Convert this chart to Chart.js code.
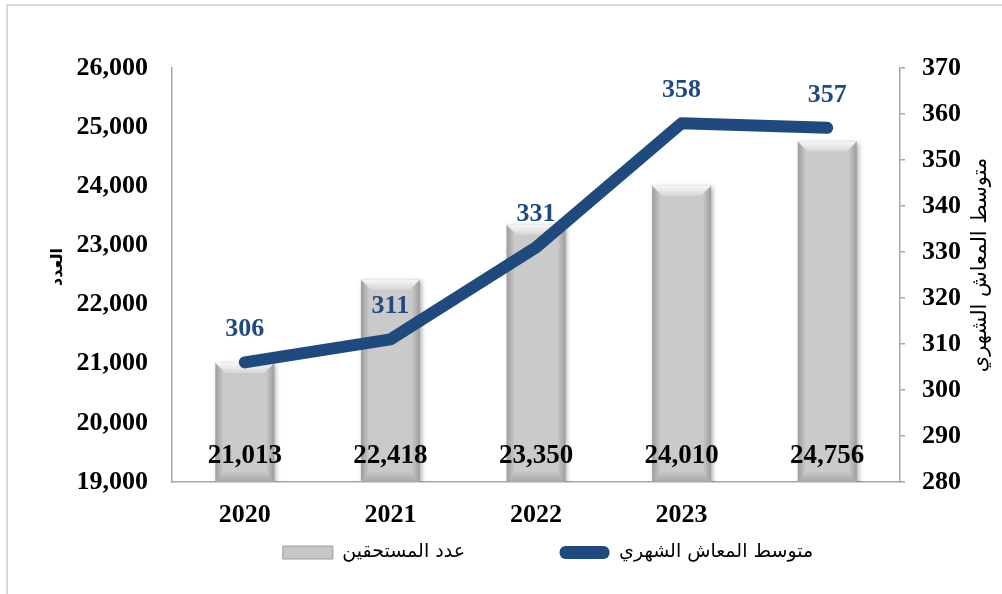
<!DOCTYPE html>
<html>
<head>
<meta charset="utf-8">
<script src="https://cdn.jsdelivr.net/npm/chart.js@4"></script>
<style>
  html, body { margin: 0; padding: 0; background: #fff; }
  #wrap { width: 1002px; height: 594px; }
</style>
</head>
<body>
<div id="wrap"><canvas id="chart" width="1002" height="594"></canvas></div>
<script>
// datos
const years = ['2020', '2021', '2022', '2023', ''];
const beneficiaries = [21013, 22418, 23350, 24010, 24756];
const avgPension = [306, 311, 331, 358, 357];

const leftMin = 19000, leftMax = 26000, leftStep = 1000;
const rightMin = 280, rightMax = 370, rightStep = 10;

const barLegend = 'عدد المستحقين';
const lineLegend = 'متوسط المعاش الشهري';
const leftTitle = 'العدد';
const rightTitle = 'متوسط المعاش الشهري';

const lineColor = '#204A7E';
const axisColor = '#a6a6a6';
const serif = '"Liberation Serif", "Times New Roman", "DejaVu Serif", serif';
const arabic = '"DejaVu Sans", "Liberation Sans", sans-serif';
const barPct = 0.405;

const canvas = document.getElementById('chart').getContext('2d');

// borde gris arriba e izquierda
const frame = {
  id: 'frame',
  beforeDraw(chart) {
    const ctx = chart.ctx;
    ctx.save();
    ctx.strokeStyle = '#d9d9d9';
    ctx.lineWidth = 2;
    ctx.beginPath();
    ctx.moveTo(7, 594);
    ctx.lineTo(7, 5);
    ctx.lineTo(1002, 5);
    ctx.stroke();
    ctx.restore();
  },
  // el eje izquierdo es angosto (para centrar la leyenda), ampliar su zona de etiquetas
  afterLayout(chart) {
    chart.scales.y.left = 20;
  }
};

// sombra y bisel de las barras
const bevel = {
  id: 'bevel',
  beforeDatasetDraw(chart, args) {
    if (args.index !== 0) return;
    const ctx = chart.ctx;
    ctx.save();
    ctx.shadowColor = 'rgba(0,0,0,0.35)';
    ctx.shadowBlur = 5;
    ctx.shadowOffsetX = 2;
    ctx.shadowOffsetY = 1;
  },
  afterDatasetDraw(chart, args) {
    if (args.index !== 0) return;
    const ctx = chart.ctx;
    ctx.restore();
    ctx.save();
    const bottom = chart.chartArea.bottom;
    args.meta.data.forEach(el => {
      const l = el.x - el.width / 2, r = el.x + el.width / 2;
      const t = el.y, b = Math.min(el.base, bottom);
      const d = 10;
      let g = ctx.createLinearGradient(0, t, 0, t + d);
      g.addColorStop(0, '#f7f7f7');
      g.addColorStop(1, '#d6d6d6');
      ctx.fillStyle = g;
      ctx.beginPath();
      ctx.moveTo(l, t); ctx.lineTo(r, t); ctx.lineTo(r - d, t + d); ctx.lineTo(l + d, t + d);
      ctx.closePath();
      ctx.fill();
      g = ctx.createLinearGradient(0, b - d, 0, b);
      g.addColorStop(0, '#c4c4c4');
      g.addColorStop(1, '#a8a8a8');
      ctx.fillStyle = g;
      ctx.beginPath();
      ctx.moveTo(l, b); ctx.lineTo(r, b); ctx.lineTo(r - d, b - d); ctx.lineTo(l + d, b - d);
      ctx.closePath();
      ctx.fill();
    });
    ctx.restore();
  }
};

// etiquetas de valores
const valueLabels = {
  id: 'valueLabels',
  afterDatasetsDraw(chart) {
    const ctx = chart.ctx;
    const bottom = chart.chartArea.bottom;
    ctx.save();
    ctx.textAlign = 'center';
    ctx.textBaseline = 'middle';
    ctx.font = 'bold 27px ' + serif;
    ctx.fillStyle = '#000';
    chart.getDatasetMeta(0).data.forEach((el, i) => {
      ctx.fillText(beneficiaries[i].toLocaleString('en-US'), el.x, bottom - 26);
    });
    ctx.font = 'bold 26px ' + serif;
    ctx.fillStyle = lineColor;
    chart.getDatasetMeta(1).data.forEach((el, i) => {
      ctx.fillText(String(avgPension[i]), el.x, el.y - 33);
    });
    ctx.restore();
  }
};

// titulos de los ejes (ambos girados -90)
const axisTitles = {
  id: 'axisTitles',
  afterDraw(chart) {
    const ctx = chart.ctx;
    const a = chart.chartArea;
    const cy = (a.top + a.bottom) / 2;
    ctx.save();
    ctx.fillStyle = '#000';
    ctx.textAlign = 'center';
    ctx.textBaseline = 'middle';
    ctx.translate(58, cy - 8);
    ctx.rotate(-Math.PI / 2);
    ctx.font = 'bold 16px ' + arabic;
    ctx.fillText(leftTitle, 0, 0);
    ctx.restore();
    ctx.save();
    ctx.fillStyle = '#000';
    ctx.textAlign = 'center';
    ctx.textBaseline = 'middle';
    ctx.translate(981, cy - 10);
    ctx.rotate(-Math.PI / 2);
    ctx.font = '21px ' + arabic;
    ctx.fillText(rightTitle, 0, 0);
    ctx.restore();
  }
};

const data = {
  labels: years,
  datasets: [
    {
      type: 'bar',
      label: barLegend,
      data: beneficiaries,
      yAxisID: 'y',
      order: 2,
      barPercentage: barPct,
      categoryPercentage: 1,
      borderWidth: 0,
      backgroundColor: (c) => {
        const x = c.chart.scales.x;
        if (c.type !== 'data' || !x) return '#c8c8c8';
        const cx = x.getPixelForValue(c.dataIndex);
        const half = x.width / years.length * barPct / 2;
        const g = c.chart.ctx.createLinearGradient(cx - half, 0, cx + half, 0);
        g.addColorStop(0, '#9c9c9c');
        g.addColorStop(0.14, '#cacaca');
        g.addColorStop(0.86, '#cacaca');
        g.addColorStop(1, '#9c9c9c');
        return g;
      }
    },
    {
      type: 'line',
      label: lineLegend,
      data: avgPension,
      yAxisID: 'y1',
      order: 1,
      borderColor: lineColor,
      backgroundColor: lineColor,
      borderWidth: 12,
      borderCapStyle: 'round',
      borderJoinStyle: 'round',
      tension: 0,
      pointRadius: 0,
      pointHoverRadius: 0,
      fill: false
    }
  ]
};

const config = {
  data: data,
  options: {
    responsive: false,
    animation: false,
    layout: { padding: { left: 104, right: 10, top: 68, bottom: 22 } },
    plugins: {
      tooltip: { enabled: false },
      legend: {
        position: 'bottom',
        labels: {
          boxWidth: 50,
          boxHeight: 13,
          padding: 10,
          useBorderRadius: true,
          color: '#000',
          font: { family: arabic, size: 19 },
          generateLabels: () => [
            { text: barLegend + ' '.repeat(14), fillStyle: '#c6c6c6', strokeStyle: '#9a9a9a', lineWidth: 1, datasetIndex: 0, borderRadius: 0 },
            { text: lineLegend, fillStyle: lineColor, strokeStyle: lineColor, lineWidth: 0, datasetIndex: 1, borderRadius: 6 }
          ]
        }
      }
    },
    scales: {
      x: {
        grid: { display: false, drawTicks: false },
        border: { display: true, color: axisColor, width: 1.5 },
        ticks: { color: '#000', padding: 18, font: { family: serif, size: 26, weight: 'bold' } },
        afterFit: (s) => { s.height = 51; }
      },
      y: {
        position: 'left',
        min: leftMin,
        max: leftMax,
        grid: { display: false, drawTicks: false },
        border: { display: true, color: axisColor, width: 1.5 },
        ticks: {
          stepSize: leftStep,
          padding: 24,
          color: '#000',
          font: { family: serif, size: 26, weight: 'bold' },
          callback: (v) => v.toLocaleString('en-US')
        },
        afterFit: (s) => { s.width = 68; }
      },
      y1: {
        position: 'right',
        min: rightMin,
        max: rightMax,
        grid: { display: true, drawOnChartArea: false, drawTicks: true, tickLength: 5, color: axisColor, lineWidth: 1.5 },
        border: { display: true, color: axisColor, width: 1.5 },
        ticks: {
          stepSize: rightStep,
          padding: 17,
          color: '#000',
          font: { family: serif, size: 26, weight: 'bold' }
        },
        afterFit: (s) => { s.width = 92; }
      }
    }
  },
  plugins: [frame, bevel, valueLabels, axisTitles]
};

const chart = new Chart(canvas, config);
</script>
</body>
</html>
